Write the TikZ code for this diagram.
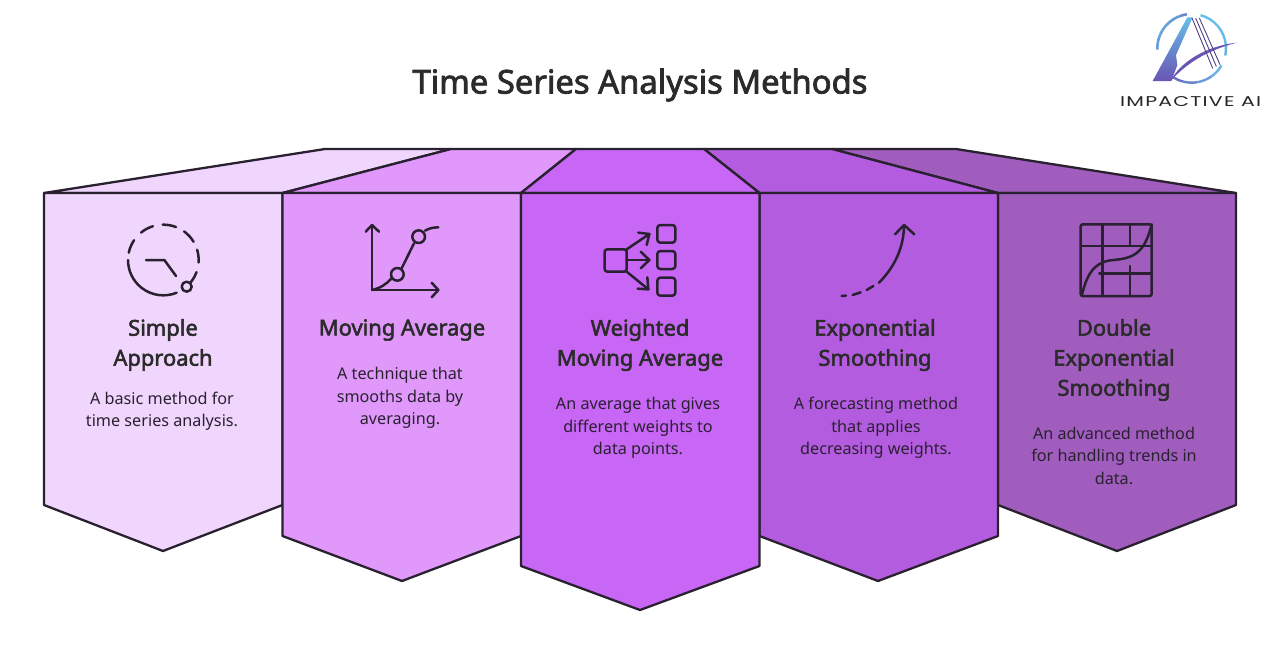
\documentclass[tikz,border=0pt]{standalone}
\usepackage{fontspec}
\usepackage{graphicx}
\setmainfont{Noto Sans}
\newfontfamily\headfont[FakeBold=2.4]{Noto Sans}
\newfontfamily\logofont{Poppins}
\definecolor{ink}{HTML}{2A2130}
\definecolor{txt}{HTML}{2B2B2B}
\definecolor{pa}{HTML}{F0D6FD}
\definecolor{pb}{HTML}{E098FB}
\definecolor{pc}{HTML}{C866F6}
\definecolor{pd}{HTML}{B45CE0}
\definecolor{pe}{HTML}{A05DBE}
\definecolor{lblue}{HTML}{66BDE9}
\definecolor{lpurp}{HTML}{6A55B3}
\tikzset{
  face/.style={draw=ink,line width=2.3pt,line join=round},
  icon/.style={draw=ink,line width=2.5pt,line cap=round,line join=round},
  titletext/.style={font=\headfont\fontsize{32.8}{40}\selectfont,text=txt,inner sep=0pt},
  headtext/.style={font=\headfont\fontsize{21.9}{30}\selectfont,text=txt,align=center,inner sep=0pt},
  bodytext/.style={font=\fontsize{16.2}{22.5}\selectfont,text=ink,align=center,inner sep=0pt},
}
\begin{document}
\begin{tikzpicture}[x=1pt,y=-1pt]
\useasboundingbox (0,0) rectangle (1280,670);
\fill[white] (0,0) rectangle (1280,670);
% top faces
\path[face,fill=pe] (998,193) -- (832,149) -- (956,149) -- (1236,193) -- cycle;
\path[face,fill=pd] (759.5,193) -- (704,149) -- (832,149) -- (998,193) -- cycle;
\path[face,fill=pa] (44,193) -- (325,149) -- (451,149) -- (282.5,193) -- cycle;
\path[face,fill=pb] (282.5,193) -- (451,149) -- (576,149) -- (521,193) -- cycle;
\path[face,fill=pc] (521,193) -- (576,149) -- (704,149) -- (759.5,193) -- cycle;
% front faces
\path[face,fill=pa] (44,193) -- (282.5,193) -- (282.5,505) -- (163,551) -- (44,505) -- cycle;
\path[face,fill=pe] (998,193) -- (1236,193) -- (1236,505) -- (1117,551) -- (998,505) -- cycle;
\path[face,fill=pb] (282.5,193) -- (521,193) -- (521,536) -- (402,581) -- (282.5,536) -- cycle;
\path[face,fill=pd] (759.5,193) -- (998,193) -- (998,536) -- (878,581) -- (759.5,536) -- cycle;
\path[face,fill=pc] (521,193) -- (759.5,193) -- (759.5,566) -- (640,610) -- (521,566) -- cycle;
% icon 1
\begin{scope}[shift={(110,210)},scale=1/3]
\foreach \a/\b in {68/180,192/214,231/253,269/291,306/329,343/364,20/52}
  \draw[icon] ({160+106*cos(\a)},{150+106*sin(\a)}) arc (\a:\b:106);
\draw[icon,fill=pa] (230,230) circle (15);
\draw[icon] (108,150) -- (163,150) -- (198,198);
\end{scope}
% icon 2
\begin{scope}[shift={(350,210)},scale=1/3]
\draw[icon] (66,45) -- (66,240) -- (265,240);
\draw[icon] (47,65) -- (66,45) -- (87,65);
\draw[icon] (245,218) -- (265,240) -- (245,262);
\draw[icon] (66,240) .. controls (90,235) and (110,222) .. (125,205);
\draw[icon] (155,175) -- (192,100);
\draw[icon] (225,62) .. controls (237,55) and (250,52) .. (265,52);
\draw[icon] (142,193) circle (19);
\draw[icon] (206,80) circle (19);
\end{scope}
% icon 3
\begin{scope}[shift={(590,210)},scale=1/3]
\draw[icon,rounded corners=2.5pt] (44,118) rectangle (110,185);
\draw[icon,rounded corners=3pt] (202,45) rectangle (256,98);
\draw[icon,rounded corners=3pt] (202,123) rectangle (256,177);
\draw[icon,rounded corners=3pt] (202,203) rectangle (256,257);
\draw[icon] (110,118) -- (178,72);
\draw[icon] (145,68) -- (178,72) -- (170,105);
\draw[icon] (110,150) -- (178,150);
\draw[icon] (152,125) -- (178,150) -- (152,175);
\draw[icon] (110,185) -- (175,238);
\draw[icon] (172,202) -- (175,238) -- (143,236);
\end{scope}
% icon 4
\begin{scope}[shift={(830,210)},scale=1/3]
\draw[icon] (222,45) .. controls (222,110) and (195,170) .. (147,218);
\draw[icon] (195,73) -- (222,45) -- (253,73);
\draw[icon] (110,240) -- (130,228);
\draw[icon] (68,255) -- (92,247);
\draw[icon] (35,258) -- (48,257);
\end{scope}
% icon 5
\begin{scope}[shift={(1060,210)},scale=1/3]
\draw[icon,rounded corners=2pt] (62,43) rectangle (275,258);
\draw[icon] (127,43) -- (127,258);
\draw[icon] (210,43) -- (210,108);
\draw[icon] (210,168) -- (210,258);
\draw[icon] (62,108) -- (275,108);
\draw[icon] (118,190) -- (275,190);
\draw[icon] (65,258) .. controls (78,205) and (95,155) .. (160,150) .. controls (225,145) and (255,125) .. (275,43);
\end{scope}
% logo
\begin{scope}[shift={(1100,0)},scale=1/3]
\foreach \a/\b/\c in {178/200/70,200/225/75,225/250/70,250/262/50}
  \draw[lblue!\c!lpurp,line width=2.6pt] ({275+103*cos(\a)},{145+103*sin(\a)}) arc (\a:\b:103);
\foreach \a/\b/\c in {285/320/100,320/355/100,355/372/90}
  \draw[lblue!\c!lpurp,line width=2.4pt] ({275+103*cos(\a)},{145+103*sin(\a)}) arc (\a:\b:103);
\foreach \a/\b/\c in {30/55/90,55/80/70,80/105/45,105/122/25}
  \draw[lblue!\c!lpurp,line width=2.4pt] ({275+103*cos(\a)},{145+103*sin(\a)}) arc (\a:\b:103);
\shade[top color=lblue,bottom color=lpurp] (158,243) -- (262,52) -- (278,52) -- (228,165) -- (232,195) -- (214,243) -- cycle;
\fill[lpurp] (212,243) .. controls (240,185) and (320,138) .. (410,128) .. controls (335,148) and (268,180) .. (212,243) -- cycle;
\foreach \d in {0,11,22}
  \draw[lpurp!75!black,line width=0.9pt] ({276+\d},54) -- ({338+\d},{205-\d/2});
\node[inner sep=0pt,anchor=west] (logotext) at (60,304) {\resizebox{141pt}{10pt}{\logofont\addfontfeature{LetterSpace=6}\textcolor{black!85}{IMPACTIVE AI}}};
\end{scope}
% title
\node[titletext] (title) at (640,85) {Time Series Analysis Methods};
% headings
\node[headtext] (h1) at (163,345) {Simple\\Approach};
\node[headtext] (h2) at (402,330) {Moving Average};
\node[headtext] (h3) at (640,345) {Weighted\\Moving Average};
\node[headtext] (h4) at (875,345) {Exponential\\Smoothing};
\node[headtext] (h5) at (1114,360) {Double\\Exponential\\Smoothing};
% bodies
\node[bodytext] (b1) at (162,411) {A basic method for\\time series analysis.};
\node[bodytext] (b2) at (400,398) {A technique that\\smooths data by\\averaging.};
\node[bodytext] (b3) at (638,428) {An average that gives\\different weights to\\data points.};
\node[bodytext] (b4) at (876,428) {A forecasting method\\that applies\\decreasing weights.};
\node[bodytext] (b5) at (1114,455.5) {An advanced method\\for handling trends in\\data.};
\end{tikzpicture}
\end{document}
